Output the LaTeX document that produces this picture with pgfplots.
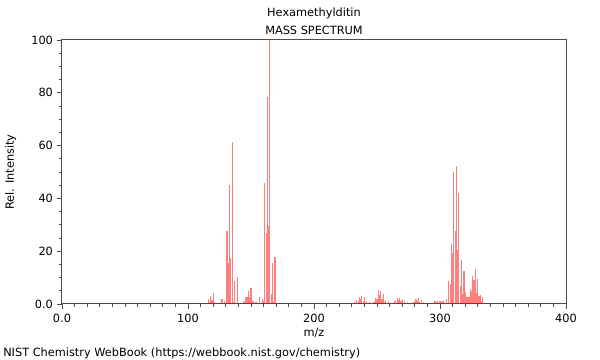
\documentclass[border=0pt]{standalone}
\usepackage{fontspec}
\setmainfont{DejaVu Sans}
\usepackage{pgfplots}
\pgfplotsset{compat=1.18}
\begin{document}
\fontsize{8.5}{10}\selectfont
\begin{tikzpicture}[x=1pt,y=1pt]
\begin{axis}[
  scale only axis,
  width=378pt, height=198pt,
  at={(0,0)}, anchor=south west,
  xmin=0, xmax=400, ymin=0, ymax=100,
  xtick={0,100,200,300,400},
  xticklabels={0.0,100,200,300,400},
  ytick={0,20,40,60,80,100},
  yticklabels={0.0,20,40,60,80,100},
  minor x tick num=9,
  minor y tick num=3,
  tick align=outside,
  tick pos=left,
  major tick length=3.75pt,
  minor tick length=2.2pt,
  every tick/.style={black!70, line width=0.6pt},
  axis line style={black!70, line width=0.75pt},
  tick label style={font=\fontsize{8.5}{10}\selectfont, black},
  xticklabel style={yshift=-1pt},
  /pgf/number format/assume math mode=true,
  clip=true,
]
\addplot[ycomb, draw=red, opacity=0.5, line width=0.85pt, mark=none] coordinates {
(88,0.3)
(116,1.8) (117,0.9) (118,3.2) (119,1.5) (120,4.0) (121,0.6) (122,0.5) (124,0.5)
(127,2.0) (129,1.2)
(131,27.6) (132,15.4) (133,45.0) (134,17.3) (135,61.4) (136,0.8) (137,8.8) (139,10.1)
(144,1.0) (145,0.8) (146,2.6) (147,2.6) (148,4.9) (149,2.5) (150,6.2) (151,1.2) (152,1.2) (154,0.9)
(157,2.5) (159,1.8) (160,1.0)
(161,45.7) (162,27.0) (163,78.5) (164,29.7) (165,100) (166,3.8) (167,15.4) (168,0.8) (169,17.7) (170,0.5)
(232,0.6) (233,0.5) (234,1.5) (235,1.2) (236,2.8) (237,2.0) (238,3.2) (239,1.2) (240,2.6) (241,0.5) (242,1.0) (244,0.8) (246,0.3)
(247,0.7) (248,0.8) (249,2.4) (250,2.0) (251,5.3) (252,3.5) (253,5.0) (254,2.0) (255,3.6) (256,0.8) (257,1.5) (259,1.0) (261,0.3)
(262,0.5) (264,1.0) (265,1.0) (266,2.4) (267,1.4) (268,2.4) (269,1.0) (270,2.0) (272,1.0) (274,0.6)
(277,0.3) (279,0.8) (280,0.8) (281,2.0) (282,1.2) (283,2.2) (284,0.8) (285,1.6) (287,0.6) (289,0.4)
(292,0.3) (294,0.5) (295,0.5) (296,1.0) (297,0.6) (298,1.1) (299,0.4) (300,1.0) (301,0.6) (302,1.0) (303,1.0) (304,0.3) (305,2.0)
(307,8.7) (308,7.6) (309,22.6) (310,19.2) (311,50.0) (312,27.8) (313,52.3) (314,20.5) (315,42.2) (316,7.0) (317,16.7) (318,3.8) (319,12.5) (320,4.7)
(321,2.5) (322,2.5) (323,2.5) (324,5.6) (325,5.0) (326,10.6) (327,9.1) (328,13.3) (329,4.0) (330,9.3) (331,3.2) (332,3.4) (333,1.0) (334,2.8) (335,0.5)
};
\end{axis}
% texts (1px = 0.75pt; axis box lower left at origin)
\node[anchor=center] at (189,218.25) {Hexamethylditin};
\node[anchor=center] at (189,205.5) {MASS SPECTRUM};
\node[anchor=center] at (189,-21.75) {m/z};
\node[anchor=center, rotate=90] at (-38.5,99) {Rel. Intensity};
\node[anchor=west, inner sep=0pt] at (-44.25,-36.75) {NIST Chemistry WebBook (https://webbook.nist.gov/chemistry)};
\path[use as bounding box] (-46.5,228) rectangle (403.5,-42);
\end{tikzpicture}
\end{document}
